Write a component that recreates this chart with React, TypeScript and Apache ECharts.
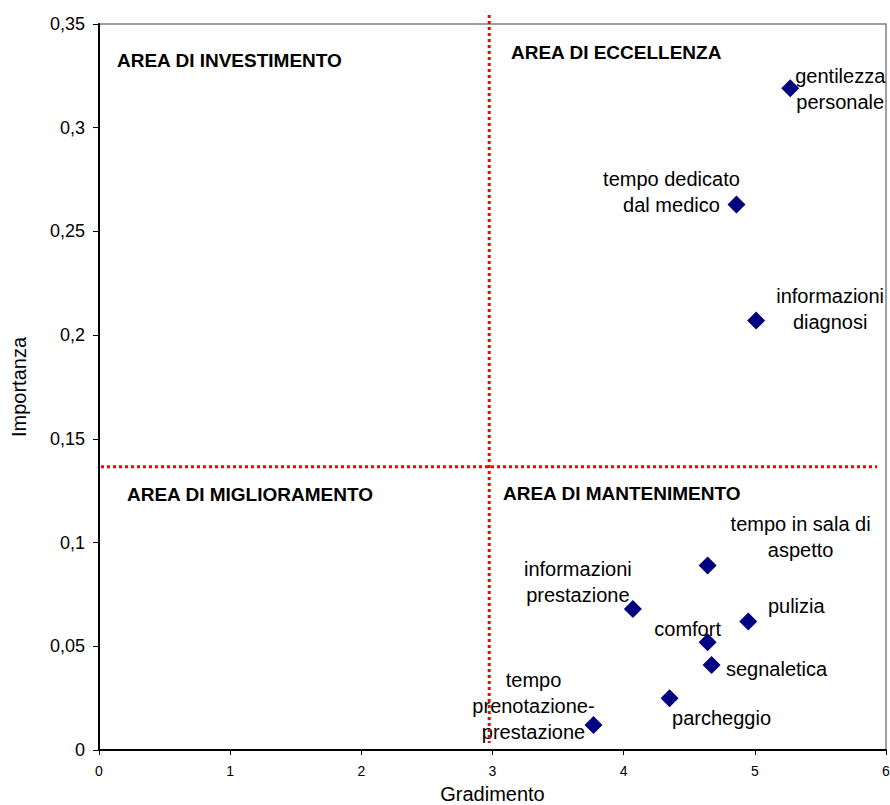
import React, { useEffect, useRef } from "react";
import * as echarts from "echarts";

// Service attributes: satisfaction (Gradimento) vs. importance (Importanza)
const pointNames = [
  "gentilezza\npersonale",
  "tempo dedicato\ndal medico",
  "informazioni\ndiagnosi",
  "tempo in sala di\naspetto",
  "informazioni\nprestazione",
  "pulizia",
  "comfort",
  "segnaletica",
  "parcheggio",
  "tempo\nprenotazione-\nprestazione",
];
const gradimento = [5.27, 4.86, 5.01, 4.64, 4.07, 4.95, 4.64, 4.67, 4.35, 3.77];
const importanza = [0.319, 0.263, 0.207, 0.089, 0.068, 0.062, 0.052, 0.041, 0.025, 0.012];

// Quadrant split values
const gradimentoSplit = 2.975;
const importanzaSplit = 0.1366;

// Quadrant captions
const quadrantTitles = [
  "AREA DI INVESTIMENTO",
  "AREA DI ECCELLENZA",
  "AREA DI MIGLIORAMENTO",
  "AREA DI MANTENIMENTO",
];

// Label placement (pixel offset of the label centre from its marker)
const labelOffsets: [number, number][] = [
  [50, 1],
  [-65, -12],
  [74, -12],
  [93, -28],
  [-55, -27],
  [48, -15],
  [-20, -13],
  [65, 4],
  [52, 20],
  [-60, -19],
];
// Caption anchors (left edge x, vertical middle y) in pixels
const titleAnchors: [number, number][] = [
  [117, 60],
  [511, 52],
  [127, 494],
  [503, 493],
];

const FONT = "'Liberation Sans', Arial, Helvetica, sans-serif";

const fmtComma = (v: number) => String(Number(v.toFixed(2))).replace(".", ",");

export default function App() {
  const ref = useRef<HTMLDivElement>(null);

  useEffect(() => {
    if (!ref.current) return;
    document.body.style.margin = "0";
    const chart = echarts.init(ref.current, null, { renderer: "svg" });

    const data = gradimento.map((g, i) => ({
      value: [g, importanza[i]],
      name: pointNames[i],
      label: { offset: labelOffsets[i] },
    }));

    chart.setOption({
      animation: false,
      backgroundColor: "#ffffff",
      textStyle: { fontFamily: FONT },
      grid: {
        left: 99,
        right: 4,
        top: 24,
        bottom: 55,
        containLabel: false,
        outerBoundsMode: "none",
        show: true,
        borderColor: "#808080",
        borderWidth: 1.5,
      },
      xAxis: {
        type: "value",
        min: 0,
        max: 6,
        interval: 1,
        name: "Gradimento",
        nameLocation: "middle",
        nameGap: 34,
        nameTextStyle: { fontSize: 20, color: "#000000", fontFamily: FONT },
        axisLine: { show: true, onZero: false, lineStyle: { color: "#000000", width: 2 } },
        axisTick: { show: true, inside: false, length: 5, lineStyle: { color: "#000000", width: 1 } },
        axisLabel: { fontSize: 14, color: "#000000", margin: 14, fontFamily: FONT },
        splitLine: { show: false },
      },
      yAxis: {
        type: "value",
        min: 0,
        max: 0.35,
        interval: 0.05,
        name: "Importanza",
        nameLocation: "middle",
        nameGap: 70,
        nameTextStyle: { fontSize: 20, color: "#000000", fontFamily: FONT },
        axisLine: { show: true, onZero: false, lineStyle: { color: "#000000", width: 2 } },
        axisTick: { show: true, inside: false, length: 6, lineStyle: { color: "#000000", width: 1 } },
        axisLabel: {
          fontSize: 18,
          color: "#000000",
          margin: 14,
          fontFamily: FONT,
          formatter: (v: number) => fmtComma(v),
        },
        splitLine: { show: false },
      },
      series: [
        {
          type: "scatter",
          symbol: "diamond",
          symbolSize: 18,
          itemStyle: { color: "#000080", opacity: 1 },
          emphasis: { disabled: true },
          clip: false,
          data,
          label: {
            show: true,
            position: "inside",
            formatter: (p: any) => p.name,
            fontSize: 20,
            lineHeight: 26,
            color: "#000000",
            fontFamily: FONT,
            align: "center",
            verticalAlign: "middle",
          },
          z: 3,
        },
      ],
    });

    // Dotted quadrant dividers, drawn from the axis scales
    const top = chart.convertToPixel({ gridIndex: 0 }, [gradimentoSplit, 0.35]) as number[];
    const bottom = chart.convertToPixel({ gridIndex: 0 }, [gradimentoSplit, 0]) as number[];
    const hLeft = chart.convertToPixel({ gridIndex: 0 }, [0, importanzaSplit]) as number[];
    const hRight = chart.convertToPixel({ gridIndex: 0 }, [6, importanzaSplit]) as number[];

    const dotted = { stroke: "#ff0000", lineWidth: 3, lineDash: [3, 3] };

    chart.setOption({
      graphic: [
        {
          type: "line",
          shape: { x1: top[0], y1: top[1] - 9, x2: bottom[0], y2: bottom[1] - 7 },
          style: dotted,
          z: 10,
        },
        {
          type: "line",
          shape: { x1: hLeft[0] + 2, y1: hLeft[1], x2: hRight[0] - 9, y2: hRight[1] },
          style: dotted,
          z: 10,
        },
        ...quadrantTitles.map((t, i) => ({
          type: "text",
          x: titleAnchors[i][0],
          y: titleAnchors[i][1],
          z: 11,
          style: {
            text: t,
            fontSize: 19,
            fontWeight: "bold",
            fontFamily: FONT,
            fill: "#000000",
            align: "left",
            verticalAlign: "middle",
          },
        })),
      ],
    });

    return () => chart.dispose();
  }, []);

  return (
    <div
      ref={ref}
      style={{ position: "absolute", left: 0, top: 0, width: 890, height: 805, background: "#fff" }}
    />
  );
}
